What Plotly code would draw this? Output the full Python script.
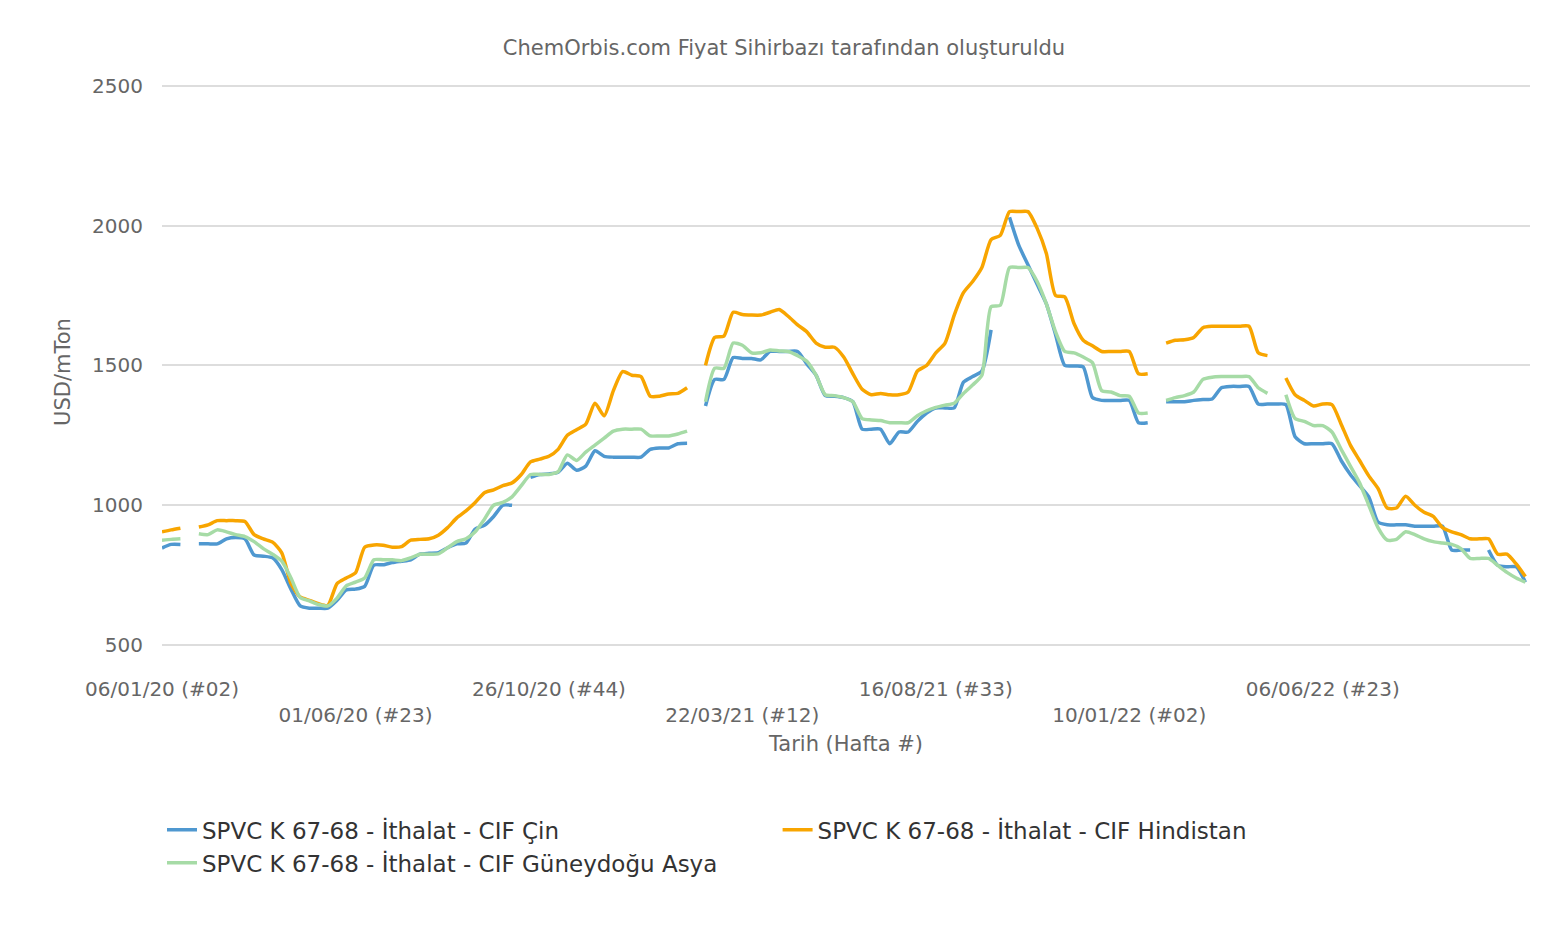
import plotly.graph_objects as go

N = None
weeks = list(range(149))

cin = [847, 860, 860, N, 862, 862, 862, 880, 885, 880, 822, 818, 812, 770, 700, 640, 632, 632, 632, 660,
       697, 700, 710, 786, 787, 795, 800, 805, 825, 828, 830, 848, 862, 865, 915, 928, 960, 1000, 1000, N,
       1100, 1110, 1112, 1118, 1150, 1125, 1140, 1195, 1175, 1172, 1172, 1172, 1172, 1200, 1205, 1205, 1220, 1222, N, 1355,
       1450, 1450, 1528, 1525, 1525, 1520, 1550, 1550, 1550, 1550, 1505, 1465, 1392, 1390, 1385, 1370, 1272, 1272, 1272, 1220,
       1262, 1262, 1300, 1330, 1348, 1348, 1348, 1440, 1460, 1480, 1627, N, 2030, 1930, 1860, 1790, 1720, 1610, 1500, 1498,
       1495, 1385, 1375, 1375, 1375, 1375, 1295, 1295, N, 1370, 1370, 1370, 1375, 1378, 1380, 1420, 1425, 1425, 1425, 1362,
       1362, 1362, 1360, 1245, 1220, 1220, 1220, 1220, 1160, 1110, 1070, 1030, 940, 930, 930, 930, 925, 925, 925, 925,
       840, 840, 840, N, 840, 785, 780, 780, 725]

hindistan = [905, 912, 918, N, 922, 930, 945, 945, 945, 942, 895, 880, 868, 830, 720, 672, 660, 648, 642, 720,
             740, 758, 850, 858, 857, 850, 852, 875, 878, 880, 893, 920, 955, 980, 1010, 1045, 1055, 1070, 1080, 1110,
             1155, 1165, 1175, 1200, 1250, 1270, 1290, 1365, 1320, 1410, 1478, 1465, 1460, 1390, 1390, 1398, 1400, 1420, N, 1500,
             1600, 1605, 1690, 1682, 1680, 1680, 1690, 1700, 1675, 1645, 1620, 1580, 1565, 1565, 1530, 1470, 1415, 1395, 1400, 1395,
             1395, 1405, 1480, 1500, 1545, 1580, 1680, 1760, 1800, 1850, 1950, 1965, 2050, 2050, 2050, 1990, 1900, 1750, 1745, 1650,
             1590, 1570, 1550, 1550, 1550, 1550, 1470, 1470, N, 1580, 1590, 1592, 1600, 1635, 1640, 1640, 1640, 1640, 1640, 1545,
             1535, N, 1455, 1395, 1375, 1355, 1362, 1360, 1290, 1215, 1160, 1105, 1060, 990, 990, 1032, 1000, 975, 960, 920,
             905, 895, 880, 880, 880, 825, 825, 790, 745]

asya = [875, 878, 880, N, 898, 895, 912, 905, 895, 888, 870, 845, 825, 800, 740, 670, 658, 645, 640, 668,
        712, 725, 740, 805, 805, 805, 802, 812, 825, 825, 826, 848, 870, 880, 905, 950, 1000, 1010, 1030, 1070,
        1110, 1110, 1110, 1120, 1180, 1160, 1190, 1215, 1240, 1265, 1272, 1272, 1272, 1248, 1248, 1248, 1255, 1265, N, 1370,
        1490, 1490, 1580, 1572, 1545, 1545, 1555, 1552, 1550, 1535, 1515, 1465, 1395, 1392, 1385, 1370, 1310, 1305, 1303, 1295,
        1295, 1295, 1320, 1338, 1350, 1358, 1365, 1400, 1430, 1465, 1710, 1715, 1850, 1850, 1850, 1800, 1720, 1620, 1550, 1545,
        1530, 1510, 1410, 1405, 1392, 1390, 1330, 1330, N, 1375, 1385, 1392, 1405, 1450, 1458, 1460, 1460, 1460, 1460, 1420,
        1400, N, 1395, 1310, 1300, 1285, 1285, 1262, 1200, 1140, 1080, 1000, 920, 875, 878, 905, 895, 880, 870, 865,
        860, 845, 810, 810, 810, 785, 760, 740, 725]

tick_weeks = [0, 21, 42, 63, 84, 105, 126, 147]
tick_labels = ["06/01/20 (#02)", "01/06/20 (#23)", "26/10/20 (#44)", "22/03/21 (#12)",
               "16/08/21 (#33)", "10/01/22 (#02)", "06/06/22 (#23)", "31/10/22 (#44)"]
tick_text = [t if i % 2 == 0 else "<br>" + t for i, t in enumerate(tick_labels)]

fig = go.Figure()
series = [
    ("SPVC K 67-68 - İthalat - CIF Çin", cin, "#4f98d0"),
    ("SPVC K 67-68 - İthalat - CIF Hindistan", hindistan, "#f8a500"),
    ("SPVC K 67-68 - İthalat - CIF Güneydoğu Asya", asya, "#a6dba6"),
]
for name, vals, col in series:
    fig.add_trace(go.Scatter(x=weeks, y=vals, mode="lines", name=name,
                             line=dict(color=col, width=3.5, shape="spline", smoothing=0.6)))

fig.update_layout(
    width=1552, height=930,
    paper_bgcolor="white", plot_bgcolor="white",
    font=dict(family="DejaVu Sans", color="#666666", size=20),
    title=dict(text="ChemOrbis.com Fiyat Sihirbazı tarafından oluşturuldu", x=0.5, xanchor="center",
               y=0.965, font=dict(size=21, color="#666666")),
    margin=dict(l=154, r=30, t=61, b=263),
    xaxis=dict(range=[0, 148.5], tickvals=tick_weeks, ticktext=tick_text, showgrid=False,
               zeroline=False, ticks="", title=dict(text="Tarih (Hafta #)", font=dict(size=21), standoff=10)),
    yaxis=dict(range=[393, 2560], tickvals=[500, 1000, 1500, 2000, 2500], showgrid=True,
               gridcolor="#dddddd", gridwidth=1.5, zeroline=False, ticks="outside", ticklen=14,
               tickcolor="white", title=dict(text="USD/mTon", font=dict(size=21))),
    legend=dict(orientation="h", x=0.0, y=-0.22, xanchor="left", yanchor="top",
                entrywidth=0.45, entrywidthmode="fraction",
                font=dict(size=23, color="#333333"), traceorder="normal"),
)

fig.write_html("out.html")
